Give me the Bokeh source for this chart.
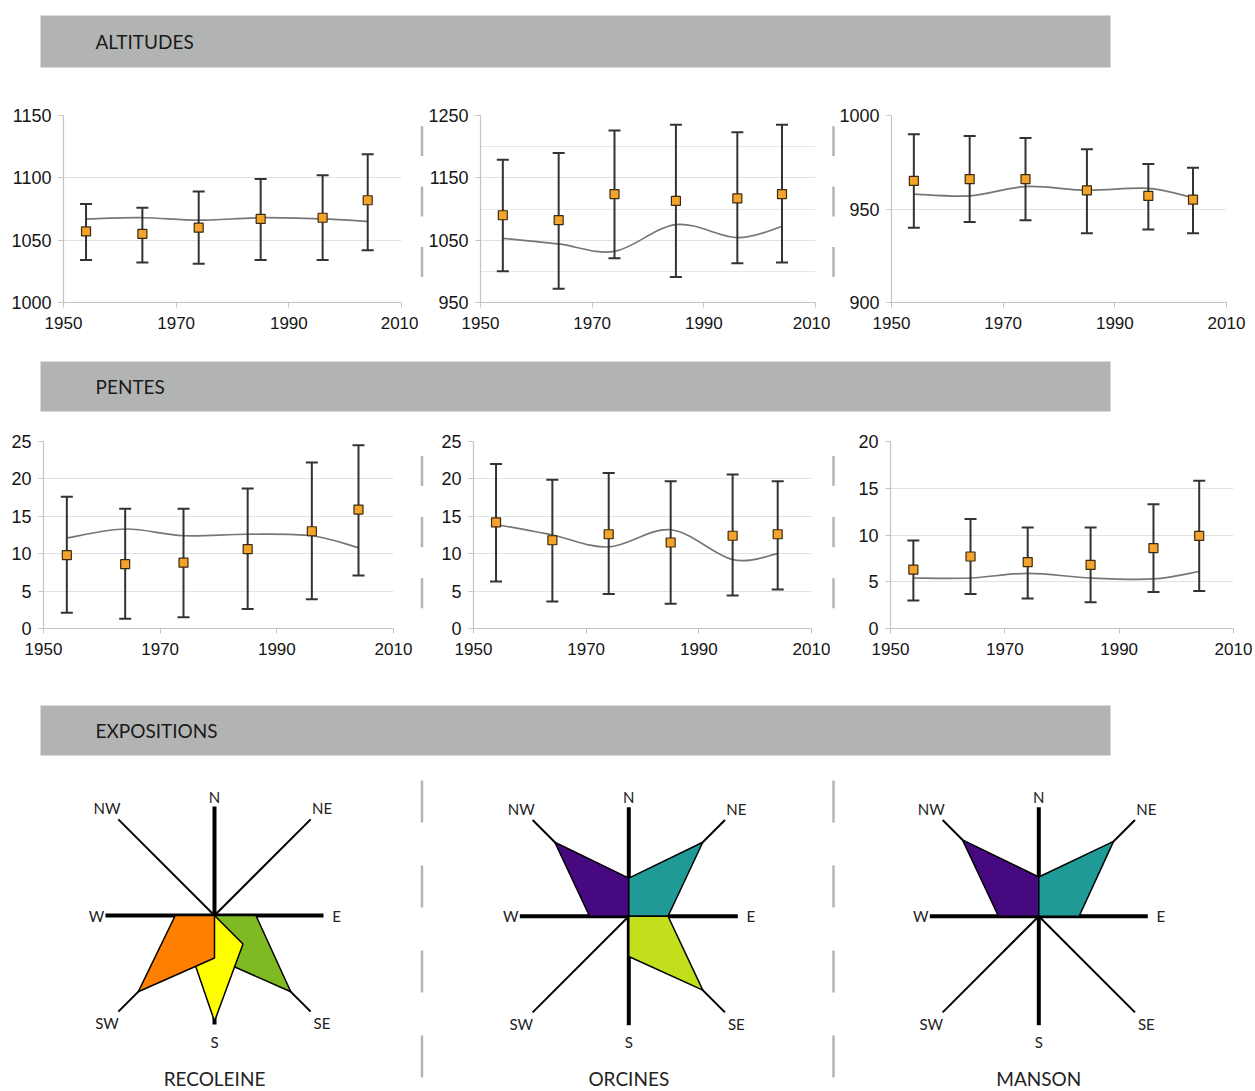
import math
from bokeh.plotting import figure
from bokeh.layouts import column, row
from bokeh.models import Range1d, FixedTicker, Label
from bokeh.embed import file_html
from bokeh.resources import INLINE

# ---------------- data ----------------
years = [1954, 1964, 1974, 1985, 1996, 2004]

# ALTITUDES
recoleine_alt_mean = [1057, 1055, 1060, 1067, 1068, 1082]
recoleine_alt_hi = [1079, 1076, 1089, 1099, 1102, 1119]
recoleine_alt_lo = [1034, 1032, 1031, 1034, 1034, 1042]
recoleine_alt_trend = [1067, 1068, 1066, 1068, 1067, 1065]

orcines_alt_mean = [1090, 1082, 1124, 1113, 1117, 1124]
orcines_alt_hi = [1179, 1190, 1226, 1235, 1223, 1235]
orcines_alt_lo = [1000, 972, 1021, 991, 1013, 1014]
orcines_alt_trend = [1053, 1044, 1032, 1075, 1054, 1072]

manson_alt_mean = [965, 966, 966, 960, 957, 955]
manson_alt_hi = [990, 989, 988, 982, 974, 972]
manson_alt_lo = [940, 943, 944, 937, 939, 937]
manson_alt_trend = [958, 957, 962, 960, 961, 956]

# PENTES
recoleine_slope_mean = [9.8, 8.6, 8.8, 10.6, 13.0, 15.9]
recoleine_slope_hi = [17.6, 16.0, 16.0, 18.7, 22.2, 24.5]
recoleine_slope_lo = [2.1, 1.3, 1.5, 2.6, 3.9, 7.1]
recoleine_slope_trend = [12.1, 13.3, 12.4, 12.6, 12.4, 10.8]

orcines_slope_mean = [14.2, 11.8, 12.6, 11.5, 12.4, 12.6]
orcines_slope_hi = [22.0, 19.9, 20.8, 19.7, 20.6, 19.7]
orcines_slope_lo = [6.3, 3.6, 4.6, 3.3, 4.4, 5.2]
orcines_slope_trend = [13.9, 12.5, 10.9, 13.2, 9.2, 10.0]

manson_slope_mean = [6.3, 7.7, 7.1, 6.8, 8.6, 9.9]
manson_slope_hi = [9.4, 11.7, 10.8, 10.8, 13.3, 15.8]
manson_slope_lo = [3.0, 3.7, 3.2, 2.8, 3.9, 4.0]
manson_slope_trend = [5.4, 5.4, 5.9, 5.4, 5.3, 6.1]

x_ticks = [1950, 1970, 1990, 2010]

# EXPOSITIONS (sector, radii at [previous axis, sector axis, next axis])
rose_directions = ["N", "NE", "E", "SE", "S", "SW", "W", "NW"]
recoleine_sectors = ["SE", "S", "SW"]
recoleine_radii = [[0.38, 0.99, 0.39], [0.37, 0.97, 0.35], [0.39, 0.99, 0.36]]
recoleine_colors = ["#80BA22", "#FFFF00", "#FF7F00"]

orcines_sectors = ["NW", "NE", "SE"]
orcines_radii = [[0.36, 0.96, 0.35], [0.35, 0.96, 0.36], [0.36, 0.96, 0.37]]
orcines_colors = ["#47097F", "#1F9A96", "#C3DF1C"]

manson_sectors = ["NW", "NE"]
manson_radii = [[0.37, 0.99, 0.36], [0.36, 0.97, 0.37]]
manson_colors = ["#47097F", "#1F9A96"]

site_names = ["RECOLEINE", "ORCINES", "MANSON"]
headers = ["ALTITUDES", "PENTES", "EXPOSITIONS"]

# ---------------- helpers ----------------
TICK_FONT = "Liberation Sans"
LABEL_FONT = "Lato"
SEP_COLOR = "#b4b4b4"
PAGE_W = 1252
DASH_START, DASH_LEN, DASH_PERIOD = 100, 42, 85


def blank_fig(w, h):
    p = figure(width=w, height=h, x_range=Range1d(0, w), y_range=Range1d(h, 0),
               toolbar_location=None, output_backend="svg",
               x_axis_type=None, y_axis_type=None,
               min_border=0, min_border_left=0, min_border_right=0,
               min_border_top=0, min_border_bottom=0)
    p.outline_line_color = None
    p.grid.visible = False
    p.background_fill_color = "white"
    p.border_fill_color = "white"
    return p


def draw_separator(p, x, page_top, h):
    """Dashed separator as explicit short segments, aligned on the page."""
    y0s, y1s = [], []
    s = DASH_START
    while s < page_top + h:
        a, b = max(s, page_top), min(s + DASH_LEN, page_top + h)
        if b > a:
            y0s.append(a - page_top)
            y1s.append(b - page_top)
        s += DASH_PERIOD
    p.segment(x0=[x] * len(y0s), y0=y0s, x1=[x] * len(y0s), y1=y1s,
              line_color=SEP_COLOR, line_width=2.5)


def smooth_parts(xs, ys):
    n = len(xs)
    P = list(zip(xs, ys))
    d = {k: [] for k in ["x0", "y0", "x1", "y1", "cx0", "cy0", "cx1", "cy1"]}
    for i in range(n - 1):
        p0 = P[i - 1] if i > 0 else P[i]
        p1 = P[i]
        p2 = P[i + 1]
        p3 = P[i + 2] if i + 2 < n else P[i + 1]
        d["x0"].append(p1[0]); d["y0"].append(p1[1])
        d["x1"].append(p2[0]); d["y1"].append(p2[1])
        d["cx0"].append(p1[0] + (p2[0] - p0[0]) / 6.0)
        d["cy0"].append(p1[1] + (p2[1] - p0[1]) / 6.0)
        d["cx1"].append(p2[0] - (p3[0] - p1[0]) / 6.0)
        d["cy1"].append(p2[1] - (p3[1] - p1[1]) / 6.0)
    return d


def make_chart(w, h, bl, br, bt, bb, ylo, yhi, yticks, yminor, mean, hi, lo, trend):
    p = figure(width=w, height=h, x_range=Range1d(1950, 2010), y_range=Range1d(ylo, yhi),
               toolbar_location=None, output_backend="svg",
               min_border_left=bl, min_border_right=br, min_border_top=bt, min_border_bottom=bb)
    p.outline_line_color = None
    p.background_fill_color = "white"
    p.border_fill_color = "white"
    p.xgrid.grid_line_color = None
    p.xaxis.ticker = FixedTicker(ticks=x_ticks)
    p.yaxis.ticker = FixedTicker(ticks=yticks, minor_ticks=yminor)
    p.ygrid.grid_line_color = "#e2e2e2"
    p.ygrid.grid_line_width = 1
    if yminor:
        p.ygrid.minor_grid_line_color = "#e8e8e8"
    for ax in (p.xaxis[0], p.yaxis[0]):
        ax.axis_line_color = "#c4c4c4"
        ax.axis_line_width = 1.2
        ax.major_tick_line_color = "#c4c4c4"
        ax.minor_tick_line_color = None
        ax.major_tick_in = 0
        ax.major_tick_out = 5
        ax.major_label_text_font = TICK_FONT
        ax.major_label_text_color = "#151515"
    p.xaxis.major_label_text_font_size = "17px"
    p.xaxis.major_label_standoff = 9
    p.yaxis.major_label_text_font_size = "18px"
    p.yaxis.major_label_standoff = 7

    d = smooth_parts(years, trend)
    p.bezier(x0=d["x0"], y0=d["y0"], x1=d["x1"], y1=d["y1"],
             cx0=d["cx0"], cy0=d["cy0"], cx1=d["cx1"], cy1=d["cy1"],
             line_color="#767676", line_width=1.7)
    p.segment(x0=years, y0=lo, x1=years, y1=hi, line_color="#333333", line_width=2)
    p.scatter(x=years + years, y=hi + lo, marker="dash", size=12,
              line_color="#333333", line_width=2)
    p.scatter(x=years, y=mean, marker="square", size=9, fill_color="#F4A42A",
              line_color="#3a2a12", line_width=1.2)
    return p


def make_sep(w, h, x, page_top):
    p = blank_fig(w, h)
    draw_separator(p, x, page_top, h)
    return p


def make_header(h, top, bottom, text):
    p = blank_fig(PAGE_W, h)
    p.quad(left=[40], right=[1110], top=[top], bottom=[bottom],
           fill_color="#b2b4b3", line_color=None)
    p.add_layout(Label(x=95, y=(top + bottom) / 2.0, text=text, text_font=LABEL_FONT,
                       text_font_size="19px", text_color="#1a1a1a",
                       text_baseline="middle", text_align="left"))
    return p


# ---------------- rows ----------------
hdr1 = make_header(85, 15, 67, headers[0])

c1 = make_chart(418, 263, 63, 17, 30, 46, 1000, 1150, [1000, 1050, 1100, 1150], [],
                recoleine_alt_mean, recoleine_alt_hi, recoleine_alt_lo, recoleine_alt_trend)
c2 = make_chart(405, 263, 54, 15, 20, 46, 950, 1250, [950, 1050, 1150, 1250], [1000, 1100, 1200],
                orcines_alt_mean, orcines_alt_hi, orcines_alt_lo, orcines_alt_trend)
c3 = make_chart(416, 263, 53, 26, 20, 46, 900, 1000, [900, 950, 1000], [],
                manson_alt_mean, manson_alt_hi, manson_alt_lo, manson_alt_trend)
row1 = row(c1, make_sep(7, 263, 3.5, 85), c2, make_sep(6, 263, 3, 85), c3)

hdr2 = make_header(72, 13, 63, headers[1])

c4 = make_chart(418, 260, 43, 25, 17, 51, 0, 25, [0, 5, 10, 15, 20, 25], [],
                recoleine_slope_mean, recoleine_slope_hi, recoleine_slope_lo, recoleine_slope_trend)
c5 = make_chart(405, 260, 48, 19, 21, 52, 0, 25, [0, 5, 10, 15, 20, 25], [],
                orcines_slope_mean, orcines_slope_hi, orcines_slope_lo, orcines_slope_trend)
c6 = make_chart(416, 260, 54, 19, 15, 52, 0, 20, [0, 5, 10, 15, 20], [],
                manson_slope_mean, manson_slope_hi, manson_slope_lo, manson_slope_trend)
row2 = row(c4, make_sep(7, 260, 3.5, 420), c5, make_sep(6, 260, 3, 420), c6)

hdr3 = make_header(85, 25, 75, headers[2])

# ---------------- roses ----------------
ROSE_TOP = 765
ROSE_H = 324
rose = blank_fig(PAGE_W, ROSE_H)
for sx in (421.5, 833):
    draw_separator(rose, sx, ROSE_TOP, ROSE_H)

UNIT = 109.0          # px for radius 1 (cardinal arm length)
DIAG_LEN = 136.0
label_r = {"N": 119, "E": 122, "S": 126, "W": 118}
centers = [(214.0, 150.0), (628.3, 150.7), (1038.3, 150.7)]
site_data = [(recoleine_sectors, recoleine_radii, recoleine_colors),
             (orcines_sectors, orcines_radii, orcines_colors),
             (manson_sectors, manson_radii, manson_colors)]


def bearing_of(name):
    return rose_directions.index(name) * 45.0


def pt(cx, cy, bearing, r):
    a = math.radians(bearing)
    return cx + r * math.sin(a), cy - r * math.cos(a)


for (cx, cy), (sectors, radii, colors), name in zip(centers, site_data, site_names):
    for dname in rose_directions:
        b = bearing_of(dname)
        card = len(dname) == 1
        ex, ey = pt(cx, cy, b, UNIT if card else DIAG_LEN)
        rose.segment(x0=[cx], y0=[cy], x1=[ex], y1=[ey], line_color="black",
                     line_width=4 if card else 2)
        lr = label_r.get(dname, 152)
        lx, ly = pt(cx, cy, b, lr)
        rose.add_layout(Label(x=lx, y=ly, text=dname, text_font=LABEL_FONT,
                              text_font_size="15px", text_color="#222222",
                              text_align="center", text_baseline="middle"))
    for sec, rr, col in zip(sectors, radii, colors):
        b = bearing_of(sec)
        xs, ys = [cx], [cy]
        for db, r in zip([-45, 0, 45], rr):
            px_, py_ = pt(cx, cy, b + db, r * UNIT)
            xs.append(px_)
            ys.append(py_)
        rose.patch(xs, ys, fill_color=col, line_color="black", line_width=1.5)
    rose.add_layout(Label(x=cx, y=313, text=name, text_font=LABEL_FONT,
                          text_font_size="19px", text_color="#222222",
                          text_align="center", text_baseline="middle"))

layout = column(hdr1, row1, hdr2, row2, hdr3, rose)

with open("out.html", "w") as f:
    f.write(file_html(layout, INLINE))
